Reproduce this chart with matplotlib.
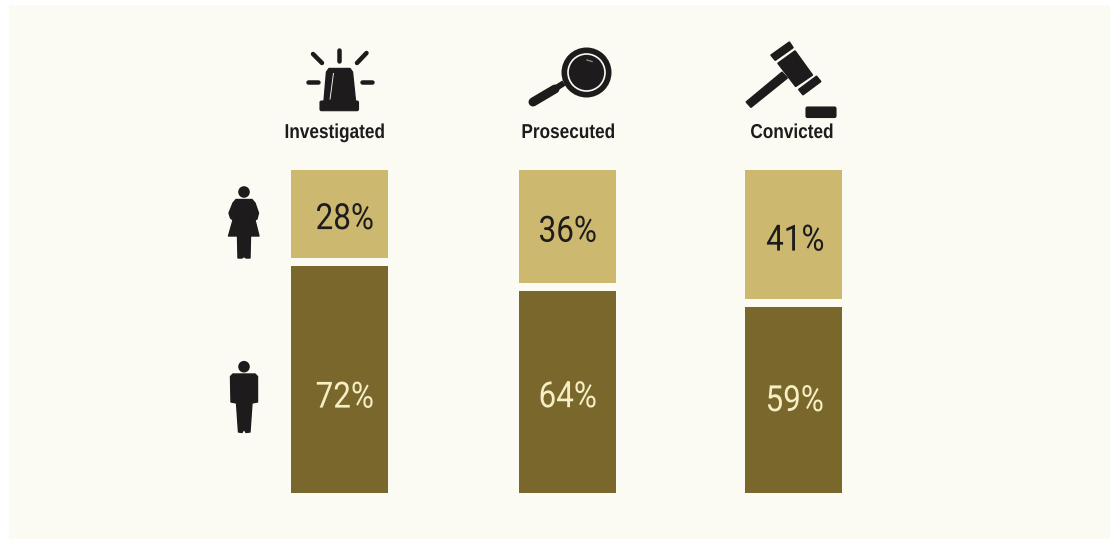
import matplotlib
matplotlib.use("Agg")
import matplotlib.pyplot as plt
from matplotlib.patches import Circle, FancyBboxPatch, Polygon, Rectangle
from matplotlib.patheffects import AbstractPathEffect
from matplotlib.transforms import Affine2D

# share of each stage by sex, in percent
stages = ["Investigated", "Prosecuted", "Convicted"]
female = [28, 36, 41]
male = [72, 64, 59]

BG = "#fbfbf3"
LIGHT = "#cdb870"
DARK = "#7a672c"
INK = "#1d1b1c"
PALE = "#f6efc6"

bar_x = [339.5, 567.5, 793.5]
bar_w = 97
gap = 2.54
label_x = [335, 568.5, 792]
female_off = [(5.5, -5), (0.5, -5), (2, -6)]
male_off = [(5.5, -18), (0.5, -5), (1.5, -1)]


class Squeeze(AbstractPathEffect):
    """Condense text horizontally about its centre."""

    def __init__(self, factor):
        super().__init__()
        self.factor = factor

    def draw_path(self, renderer, gc, tpath, affine, rgbFace=None):
        w = tpath.get_extents(affine).width
        squeezed = Affine2D().scale(self.factor, 1) + affine
        squeezed = squeezed + Affine2D().translate((1 - self.factor) * w / 2, 0)
        renderer.draw_path(gc, tpath, squeezed, rgbFace)


fig = plt.figure(figsize=(11.1, 5.39), dpi=100, facecolor="white")

# backdrop and icons are laid out in pixels, y downwards
bg = fig.add_axes([0, 0, 1, 1])
bg.set_xlim(0, 1110)
bg.set_ylim(539, 0)
bg.axis("off")
bg.add_patch(Rectangle((9, 5), 1101, 534, fc=BG, ec="none"))

# bars share the pixel x range, y runs in percent
ax = fig.add_axes([0, (539 - 493) / 539, 1, 323 / 539])
ax.set_xlim(0, 1110)
ax.set_ylim(0, 100 + gap)
ax.axis("off")
ax.patch.set_alpha(0)

tops = [m + gap for m in male]
ax.bar(bar_x, male, width=bar_w, color=DARK)
ax.bar(bar_x, female, width=bar_w, bottom=tops, color=LIGHT)

for i, x in enumerate(bar_x):
    ax.annotate(f"{female[i]}%", (x, tops[i] + female[i] / 2), xytext=female_off[i],
                textcoords="offset pixels", ha="center", va="center",
                fontsize=26, color=INK, family="Roboto", path_effects=[Squeeze(0.87)])
    ax.annotate(f"{male[i]}%", (x, male[i] / 2), xytext=male_off[i],
                textcoords="offset pixels", ha="center", va="center",
                fontsize=26, color=PALE, family="Roboto", path_effects=[Squeeze(0.87)])
    bg.text(label_x[i], 138, stages[i], ha="center", va="baseline", fontsize=14.5,
            fontweight="bold", color=INK, family="Liberation Sans",
            path_effects=[Squeeze(0.855)])


def stroke(p, q, width, color=INK, cap="round"):
    bg.plot([p[0], q[0]], [p[1], q[1]], color=color, lw=width * 0.72,
            solid_capstyle=cap)


def shape(points, color=INK, fat=1.0):
    bg.add_patch(Polygon(points, closed=True, fc=color, ec=color, lw=fat, joinstyle="round"))


# siren
stroke((339, 50), (339, 61), 4.5)
stroke((313, 54), (322, 63), 4.5)
stroke((366.5, 53), (357, 63), 4.5)
stroke((307.5, 81.7), (317.5, 81.7), 4.5)
stroke((361.5, 81.7), (372, 81.7), 4.5)
shape([(329, 68.5), (350, 68.5), (352.5, 72), (355.5, 101), (324, 101), (326.5, 72)])
bg.add_patch(FancyBboxPatch((320, 101), 38.5, 9.7, boxstyle="round,pad=0,rounding_size=1.5",
                            fc=INK, ec=INK, lw=0.8))
stroke((333.5, 73), (330, 99.5), 0.9, BG, "butt")

# magnifying glass
stroke((533, 102), (555, 89), 9)
stroke((553, 90), (564, 83), 6, cap="butt")
bg.add_patch(Circle((586.5, 72.5), 25, fc=INK, ec="none"))
bg.add_patch(Circle((586.5, 72.5), 18.5, fc="none", ec=BG, lw=1.2))
bg.plot([587, 592], [60, 61.5], color="#8a8a88", lw=1)

# gavel
shape([(771.2, 55.2), (789.3, 42.3), (792.8, 47.6), (775.3, 60)], fat=1.4)
shape([(778.2, 63.3), (795, 51.2), (812.2, 75), (795.7, 86.2)], fat=1.4)
shape([(799, 89.5), (816.5, 76.5), (820.5, 81.5), (803, 94.5)], fat=1.4)
shape([(746.5, 102), (782, 72.5), (787, 78), (751, 107)], fat=1.4)
bg.add_patch(FancyBboxPatch((806, 107), 30, 10.5, boxstyle="round,pad=0,rounding_size=1.5",
                            fc=INK, ec=INK, lw=0.8))

# woman
bg.add_patch(Circle((244, 192), 5.8, fc=INK, ec="none"))
shape([(236, 199.5), (252, 199.5), (255, 203), (258.5, 213), (257, 219), (255, 220),
       (259, 236), (250.5, 236), (250, 258), (246, 258), (244, 256.5), (242, 258), (238, 258),
       (237.5, 236), (228.5, 236), (233, 220), (230.5, 218), (229, 213), (233, 203)])

# man
bg.add_patch(Circle((244, 366.7), 5.8, fc=INK, ec="none"))
shape([(233, 374), (255, 374), (257.5, 376.5), (257.5, 402), (252, 403), (250, 432),
       (246, 432.5), (244, 429), (242, 432.5), (238.5, 432), (236.5, 403), (231, 402),
       (230.5, 376.5)])

fig.savefig("out.png", dpi=100, facecolor=fig.get_facecolor())
